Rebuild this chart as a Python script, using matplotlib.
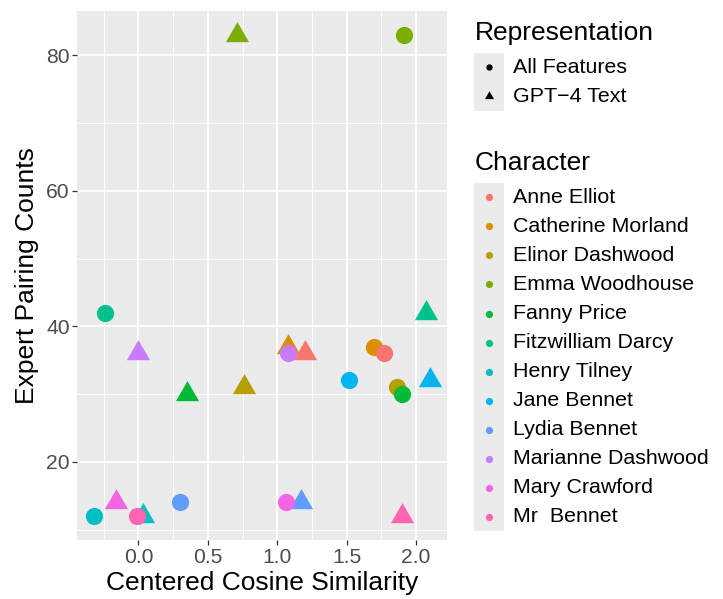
import matplotlib
matplotlib.use("Agg")
import matplotlib.pyplot as plt
from matplotlib.path import Path
from matplotlib.patches import Rectangle
import numpy as np

plt.rcParams['font.family'] = ['Liberation Sans', 'DejaVu Sans']

characters = ["Anne Elliot", "Catherine Morland", "Elinor Dashwood", "Emma Woodhouse",
              "Fanny Price", "Fitzwilliam Darcy", "Henry Tilney", "Jane Bennet",
              "Lydia Bennet", "Marianne Dashwood", "Mary Crawford", "Mr  Bennet"]
colors = ["#F8766D", "#DE8C00", "#B79F00", "#7CAE00", "#00BA38", "#00C08B",
          "#00BFC4", "#00B4F0", "#619CFF", "#C77CFF", "#F564E3", "#FF64B0"]
representations = ["All Features", "GPT\u22124 Text"]

# GPT-4 Text (triangles), drawn first; order chosen for overlap
tri_char = ["Catherine Morland", "Anne Elliot", "Elinor Dashwood", "Emma Woodhouse",
            "Fanny Price", "Fitzwilliam Darcy", "Henry Tilney", "Jane Bennet",
            "Lydia Bennet", "Marianne Dashwood", "Mary Crawford", "Mr  Bennet"]
tri_x = [1.08, 1.20, 0.76, 0.71, 0.35, 2.07, 0.03, 2.10, 1.17, 0.00, -0.16, 1.90]
tri_y = [37, 36, 31, 83, 30, 42, 12, 32, 14, 36, 14, 12]

# All Features (circles)
cir_char = ["Catherine Morland", "Anne Elliot", "Elinor Dashwood", "Emma Woodhouse",
            "Fanny Price", "Fitzwilliam Darcy", "Henry Tilney", "Jane Bennet",
            "Lydia Bennet", "Marianne Dashwood", "Mary Crawford", "Mr  Bennet"]
cir_x = [1.70, 1.77, 1.86, 1.91, 1.90, -0.24, -0.32, 1.52, 0.30, 1.08, 1.06, -0.01]
cir_y = [37, 36, 31, 83, 30, 42, 12, 32, 14, 36, 14, 12]

x_ticks = [0.0, 0.5, 1.0, 1.5, 2.0]
x_ticklabels = ["0.0", "0.5", "1.0", "1.5", "2.0"]
y_ticks = [20, 40, 60, 80]
y_ticklabels = ["20", "40", "60", "80"]

W, H = 723, 599
fig = plt.figure(figsize=(W / 100, H / 100), dpi=100)

def fx(px):
    return px / W

def fy(py):
    return 1 - py / H

ax = fig.add_axes([fx(77.3), fy(540), fx(446.7) - fx(77.3), fy(11) - fy(540)])
ax.set_facecolor("#EBEBEB")
for s in ax.spines.values():
    s.set_visible(False)

# equilateral triangle like R pch 17
tri_marker = Path([(0, 1), (-0.8660254, -0.5), (0.8660254, -0.5), (0, 1)],
                  [Path.MOVETO, Path.LINETO, Path.LINETO, Path.CLOSEPOLY])

cmap = dict(zip(characters, colors))
allx = tri_x + cir_x
ally = tri_y + cir_y
xr = max(allx) - min(allx)
yr = max(ally) - min(ally)
ax.set_xlim(min(allx) - 0.05 * xr, max(allx) + 0.05 * xr)
ax.set_ylim(min(ally) - 0.05 * yr, max(ally) + 0.05 * yr)

for c, x, y in zip(tri_char, tri_x, tri_y):
    ax.scatter([x], [y], s=19.3 ** 2, marker=tri_marker, color=cmap[c],
               linewidths=0, zorder=3)
for c, x, y in zip(cir_char, cir_x, cir_y):
    ax.scatter([x], [y], s=12.4 ** 2, marker="o", color=cmap[c],
               linewidths=0, zorder=3)

ax.set_xticks(x_ticks)
ax.set_xticklabels(x_ticklabels)
ax.set_yticks(y_ticks)
ax.set_yticklabels(y_ticklabels)
ax.set_xticks([-0.25, 0.25, 0.75, 1.25, 1.75], minor=True)
ax.set_yticks([10, 30, 50, 70], minor=True)
ax.grid(which="major", color="white", linewidth=1.35, zorder=0)
ax.grid(which="minor", color="white", linewidth=0.65, zorder=0)
ax.set_axisbelow(True)
ax.tick_params(which="major", length=3.5, width=0.9, color="#333333",
               labelcolor="#4D4D4D", labelsize=15.2, pad=2)
ax.tick_params(which="minor", length=0)
ax.set_xlabel("Centered Cosine Similarity", fontsize=19, labelpad=3)
ax.set_ylabel("Expert Pairing Counts", fontsize=19, labelpad=5)

# legend drawn in pixel space
lax = fig.add_axes([0, 0, 1, 1])
lax.set_xlim(0, W)
lax.set_ylim(H, 0)
lax.axis("off")

step = 29.05
lax.text(475, 33, "Representation", fontsize=19, va="center", ha="left")
key_y = [67.3, 67.3 + step]
lax.add_patch(Rectangle((474, key_y[0] - step / 2), 30, step * 2,
                        facecolor="#EBEBEB", edgecolor="none"))
lax.scatter([489], [key_y[0]], s=4.6 ** 2, marker="o", color="black", linewidths=0)
lax.scatter([489], [key_y[1]], s=7.5 ** 2, marker=tri_marker, color="black", linewidths=0)
for lab, yy in zip(representations, key_y):
    lax.text(513, yy, lab, fontsize=15.4, va="center", ha="left")

lax.text(475, 162.5, "Character", fontsize=19, va="center", ha="left")
y0 = 197.3
lax.add_patch(Rectangle((474, y0 - step / 2), 30, step * 12,
                        facecolor="#EBEBEB", edgecolor="none"))
for i, (lab, col) in enumerate(zip(characters, colors)):
    yy = y0 + i * step
    lax.scatter([489], [yy], s=5.2 ** 2, marker="o", color=col, linewidths=0)
    lax.text(513, yy, lab, fontsize=15.4, va="center", ha="left")

fig.savefig("out.png", dpi=100)
